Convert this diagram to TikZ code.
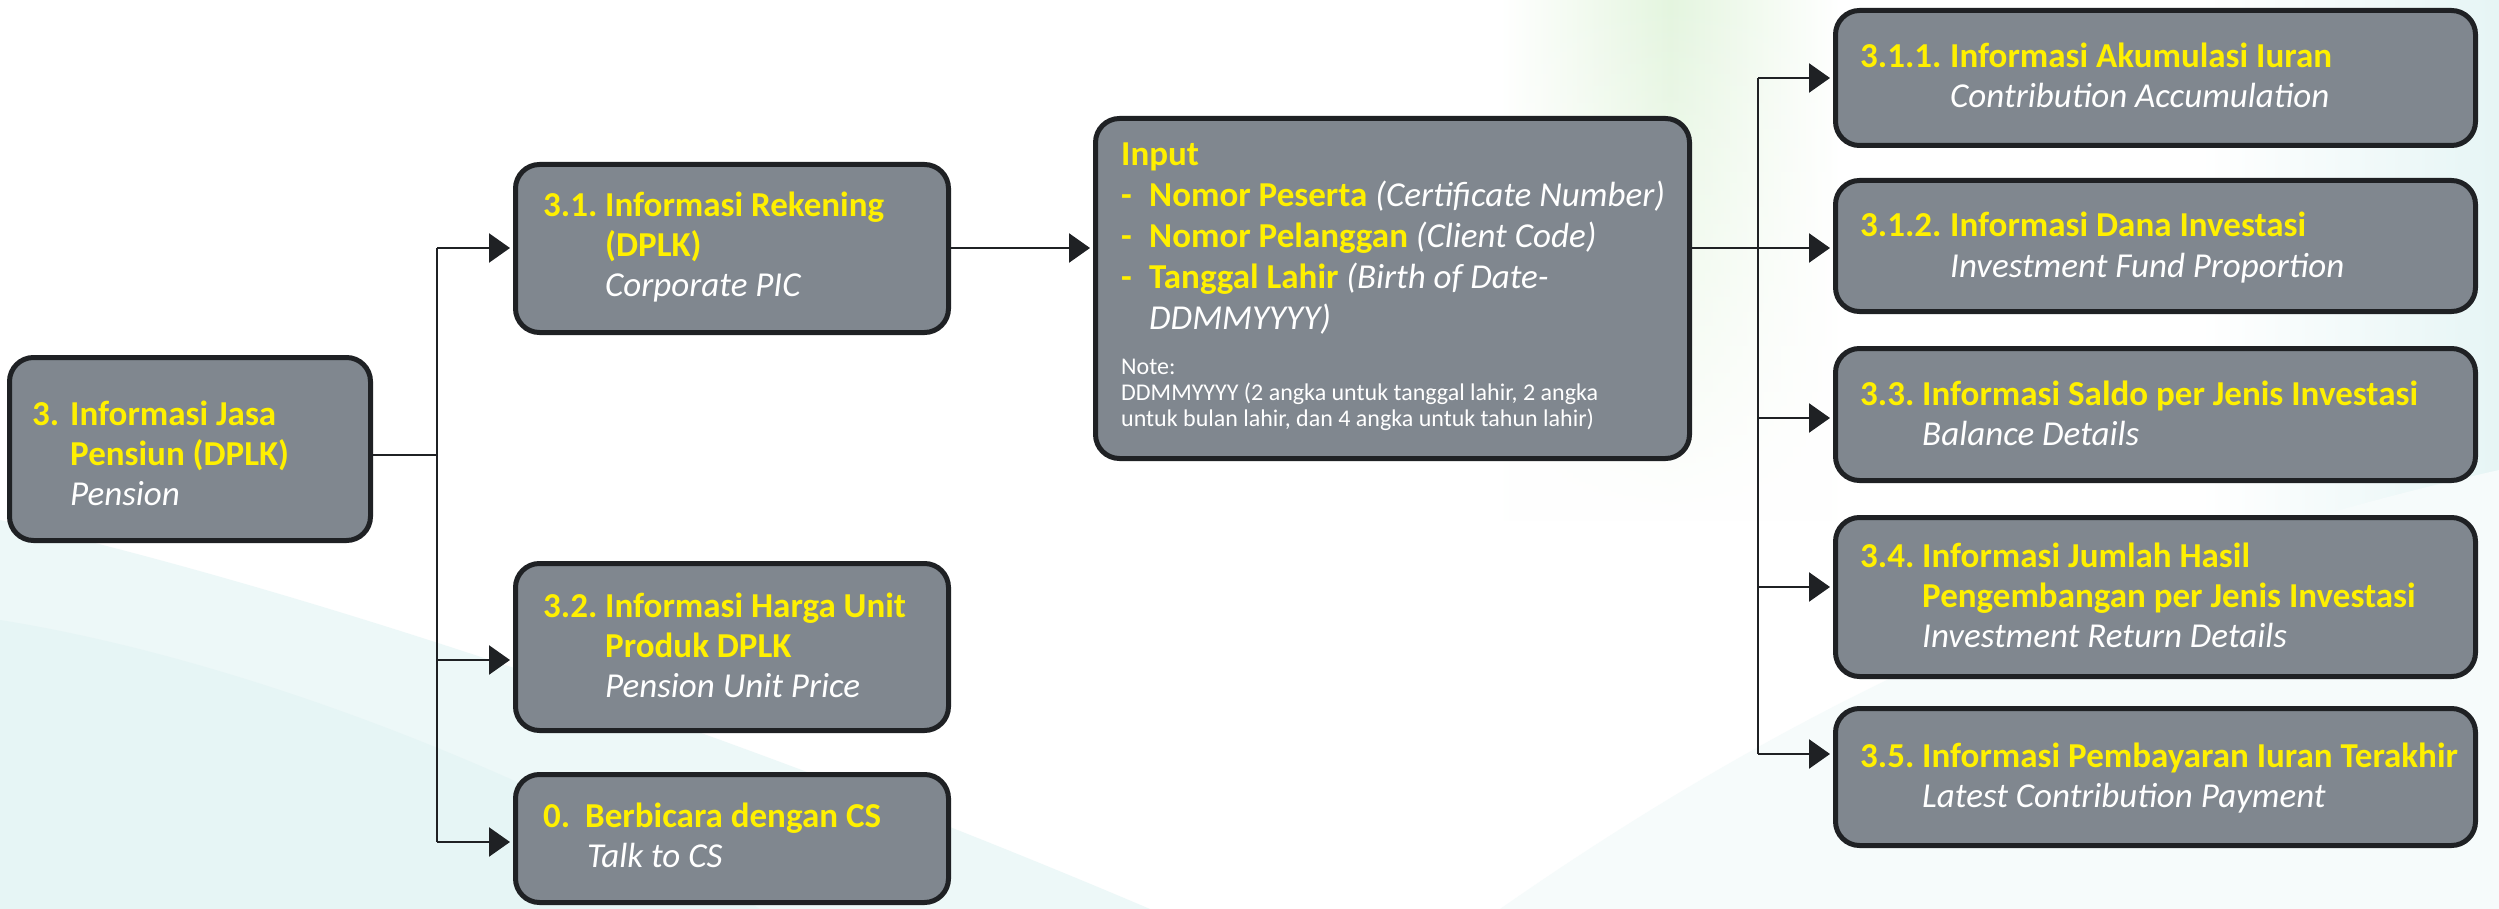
\documentclass[tikz,border=0pt]{standalone}
\usepackage{fontspec}
\setmainfont{Carlito}
\usetikzlibrary{arrows.meta,fadings}
\definecolor{boxfill}{HTML}{80878F}
\definecolor{boxline}{HTML}{1F2124}
\definecolor{yl}{HTML}{FFF000}
\definecolor{bgcyan}{HTML}{E6F5F5}
\definecolor{bggreen}{HTML}{E4F5DF}
\newcommand{\Yl}[1]{\textcolor{yl}{\bfseries #1}}
\newcommand{\Wi}[1]{\textcolor{white}{\itshape #1}}
\newcommand{\Nm}[2]{\makebox[#1][l]{\Yl{#2}}}
\tikzfading[name=fadedown, top color=transparent!0, bottom color=transparent!100]
\tikzset{
  box/.style={draw=boxline, line width=5pt, fill=boxfill, rounded corners=24pt,
    anchor=north west, inner sep=0pt},
  txt/.style={anchor=base west, inner sep=0pt, font=\fontsize{35}{40}\selectfont},
  conn/.style={line width=2.5pt, draw=boxline},
  arr/.style={conn, shorten >=3pt, -{Triangle[length=21pt,width=29pt]}},
}
\begin{document}
\begin{tikzpicture}[x=1pt,y=-1pt]
\useasboundingbox (0,0) rectangle (2499,909);
\fill[white] (0,0) rectangle (2499,909);
% background decoration
\shade[left color=white, right color=white, middle color=bggreen, path fading=fadedown] (1500,0) rectangle (1840,520);
\shade[left color=white, right color=bgcyan] (2200,0) rectangle (2499,909);
\fill[bgcyan!70] (0,520) .. controls (350,600) and (800,760) .. (1150,909) -- (0,909) -- cycle;
\fill[bgcyan] (0,620) .. controls (250,660) and (550,780) .. (760,909) -- (0,909) -- cycle;
\fill[bgcyan!35] (1500,909) .. controls (1800,700) and (2100,560) .. (2499,470) -- (2499,909) -- cycle;

% boxes
\node[box, minimum width=361pt, minimum height=183pt] (b3) at (7,355) {};
\node[box, minimum width=433pt, minimum height=168pt] (b31) at (513,162) {};
\node[box, minimum width=433pt, minimum height=167pt] (b32) at (513,561) {};
\node[box, minimum width=433pt, minimum height=128pt] (b0) at (513,772) {};
\node[box, minimum width=594pt, minimum height=340pt] (bin) at (1093,116) {};
\node[box, minimum width=640pt, minimum height=135pt] (b311) at (1833,8) {};
\node[box, minimum width=640pt, minimum height=131pt] (b312) at (1833,178) {};
\node[box, minimum width=640pt, minimum height=132pt] (b33) at (1833,346) {};
\node[box, minimum width=640pt, minimum height=159pt] (b34) at (1833,515) {};
\node[box, minimum width=640pt, minimum height=137pt] (b35) at (1833,706) {};

% texts
\node[txt] (t3) at (32,425) {\begin{tabular}[t]{@{}l@{}}
\Nm{38pt}{3.}\Yl{Informasi Jasa}\\
\hspace*{38pt}\Yl{Pensiun (DPLK)}\\
\hspace*{38pt}\Wi{Pension}\end{tabular}};
\node[txt] (t31) at (543,217) {\begin{tabular}[t]{@{}l@{}}
\Nm{62pt}{3.1.}\Yl{Informasi Rekening}\\
\hspace*{62pt}\Yl{(DPLK)}\\
\hspace*{62pt}\Wi{Corporate PIC}\end{tabular}};
\node[txt] (t32) at (543,617) {\begin{tabular}[t]{@{}l@{}}
\Nm{62pt}{3.2.}\Yl{Informasi Harga Unit}\\
\hspace*{62pt}\Yl{Produk DPLK}\\
\hspace*{62pt}\Wi{Pension Unit Price}\end{tabular}};
\node[txt] (t0) at (543,827) {\begin{tabular}[t]{@{}l@{}}
\Nm{42pt}{0.}\Yl{Berbicara dengan CS}\\
\hspace*{44pt}\Wi{Talk to CS}\end{tabular}};
\node[txt, font=\fontsize{35}{41}\selectfont] (tin) at (1121,166) {\begin{tabular}[t]{@{}l@{}}
\Yl{Input}\\
\Nm{28pt}{-}\Yl{Nomor Peserta} \Wi{(Certificate Number)}\\
\Nm{28pt}{-}\Yl{Nomor Pelanggan} \Wi{(Client Code)}\\
\Nm{28pt}{-}\Yl{Tanggal Lahir} \Wi{(Birth of Date-}\\
\hspace*{28pt}\Wi{DDMMYYYY)}\end{tabular}};
\node[txt, font=\fontsize{24}{26}\selectfont, text=white] (tnote) at (1121,374) {\begin{tabular}[t]{@{}l@{}}
Note:\\
DDMMYYYY (2 angka untuk tanggal lahir, 2 angka\\
untuk bulan lahir, dan 4 angka untuk tahun lahir)\end{tabular}};
\node[txt] (t311) at (1860,68) {\begin{tabular}[t]{@{}l@{}}
\Nm{90pt}{3.1.1.}\Yl{Informasi Akumulasi Iuran}\\
\hspace*{90pt}\Wi{Contribution Accumulation}\end{tabular}};
\node[txt] (t312) at (1860,237) {\begin{tabular}[t]{@{}l@{}}
\Nm{90pt}{3.1.2.}\Yl{Informasi Dana Investasi}\\
\hspace*{90pt}\Wi{Investment Fund Proportion}\end{tabular}};
\node[txt] (t33) at (1860,405) {\begin{tabular}[t]{@{}l@{}}
\Nm{62pt}{3.3.}\Yl{Informasi Saldo per Jenis Investasi}\\
\hspace*{62pt}\Wi{Balance Details}\end{tabular}};
\node[txt] (t34) at (1860,567) {\begin{tabular}[t]{@{}l@{}}
\Nm{62pt}{3.4.}\Yl{Informasi Jumlah Hasil}\\
\hspace*{62pt}\Yl{Pengembangan per Jenis Investasi}\\
\hspace*{62pt}\Wi{Investment Return Details}\end{tabular}};
\node[txt] (t35) at (1860,767) {\begin{tabular}[t]{@{}l@{}}
\Nm{62pt}{3.5.}\Yl{Informasi Pembayaran Iuran Terakhir}\\
\hspace*{62pt}\Wi{Latest Contribution Payment}\end{tabular}};

% left connectors
\coordinate (j0) at (437,455);
\coordinate (j1) at (437,248);
\coordinate (j2) at (437,660);
\coordinate (j3) at (437,842);
\draw[conn] (b3.east |- j0) -- (j0);
\draw[conn] (j1) -- (j3);
\draw[arr] (j1) -- (b31.west |- j1);
\draw[arr] (j2) -- (b32.west |- j2);
\draw[arr] (j3) -- (b0.west |- j3);
% middle connector
\coordinate (m1) at (951,248);
\draw[arr] (b31.east |- m1) -- (bin.west |- m1);
% right connectors
\coordinate (r0) at (1758,248);
\coordinate (r1) at (1758,78);
\coordinate (r2) at (1758,248);
\coordinate (r3) at (1758,418);
\coordinate (r4) at (1758,587);
\coordinate (r5) at (1758,754);
\draw[conn] (bin.east |- r0) -- (r0);
\draw[conn] (r1) -- (r5);
\draw[arr] (r1) -- (b311.west |- r1);
\draw[arr] (r2) -- (b312.west |- r2);
\draw[arr] (r3) -- (b33.west |- r3);
\draw[arr] (r4) -- (b34.west |- r4);
\draw[arr] (r5) -- (b35.west |- r5);
\end{tikzpicture}
\end{document}
